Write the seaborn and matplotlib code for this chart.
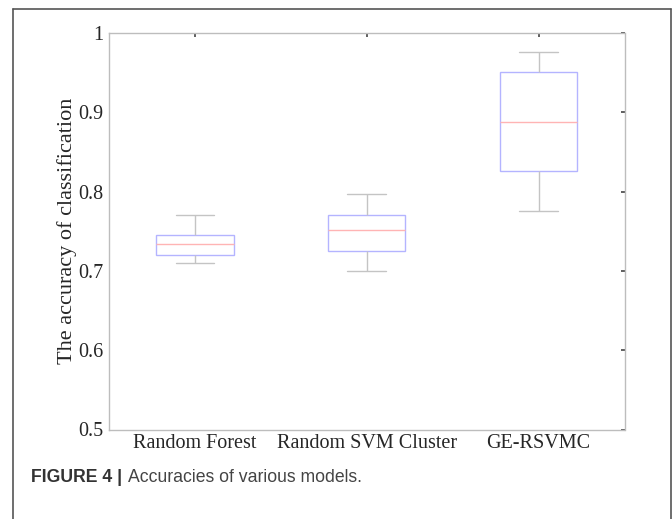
import matplotlib
matplotlib.use("Agg")
import matplotlib.pyplot as plt
import seaborn as sns
import pandas as pd
from matplotlib.lines import Line2D

# Five-number summaries (min, Q1, median, Q3, max)
models = ["Random Forest", "Random SVM Cluster", "GE-RSVMC"]
rf_acc = [0.7105, 0.720, 0.734, 0.745, 0.771]
svm_acc = [0.700, 0.7245, 0.751, 0.771, 0.797]
ge_acc = [0.775, 0.826, 0.888, 0.9505, 0.976]
y_ticks = [0.5, 0.6, 0.7, 0.8, 0.9, 1.0]
y_tick_labels = ["0.5", "0.6", "0.7", "0.8", "0.9", "1"]

df = pd.DataFrame({
    "model": [models[0]] * len(rf_acc) + [models[1]] * len(svm_acc) + [models[2]] * len(ge_acc),
    "acc": rf_acc + svm_acc + ge_acc,
})

sns.set_style("white")
plt.rcParams["font.family"] = ["Liberation Serif", "DejaVu Serif"]

fig = plt.figure(figsize=(6.72, 5.19), dpi=100)
ax = fig.add_axes([109 / 672, 1 - 429.5 / 519, (624.5 - 109) / 672, (429.5 - 33) / 519])

sns.boxplot(
    data=df, x="model", y="acc", order=models, ax=ax,
    width=0.45, whis=(0, 100), fill=True, color="white", linewidth=1.0,
    boxprops=dict(facecolor="white", edgecolor="#b4b4ff", linewidth=1.0),
    medianprops=dict(color="#ffb4b4", linewidth=1.0),
    whiskerprops=dict(color="#c4c4c4", linewidth=1.0, linestyle="-"),
    capprops=dict(color="#c4c4c4", linewidth=1.0),
    showfliers=False,
)

ax.set_xlim(-0.5, 2.5)
ax.set_ylim(0.5, 1.0)
ax.set_yticks(y_ticks)
ax.set_yticklabels(y_tick_labels)
ax.set_xlabel("")
ax.set_ylabel("The accuracy of classification", fontsize=16, labelpad=1)

for s in ax.spines.values():
    s.set_visible(True)
    s.set_color("#bdbdbd")
    s.set_linewidth(1.0)

ax.tick_params(axis="both", which="both", direction="in", length=3, width=1.2,
               color="#444444", top=True, right=True, labelsize=14.5, pad=4)
ax.tick_params(axis="x", pad=3)

# Figure frame (left, top, right)
x0, x1, yt = 13 / 672, 670.5 / 672, 1 - 9 / 519
fig.add_artist(Line2D([x0, x0], [0, yt], transform=fig.transFigure, color="#555555", lw=1.2))
fig.add_artist(Line2D([x0, x1], [yt, yt], transform=fig.transFigure, color="#555555", lw=1.2))
fig.add_artist(Line2D([x1, x1], [0, yt], transform=fig.transFigure, color="#555555", lw=1.2))

# Caption
cap_y = 1 - 482 / 519
fig.text(31 / 672, cap_y, "FIGURE 4 |", family=["Liberation Sans", "DejaVu Sans"],
         fontweight="bold", fontsize=12.7, color="#333333", va="baseline", ha="left")
fig.text(128 / 672, cap_y, "Accuracies of various models.", family=["Liberation Sans", "DejaVu Sans"],
         fontsize=12.7, color="#444444", va="baseline", ha="left")

fig.savefig("out.png", dpi=100)
